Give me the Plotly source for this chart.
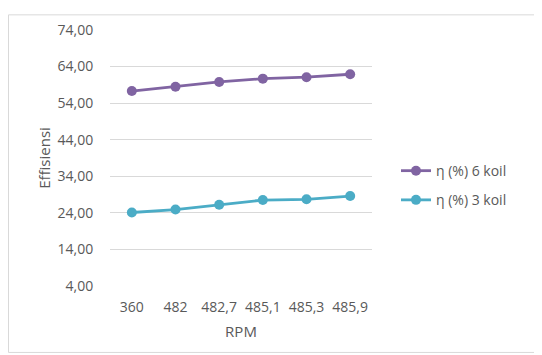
import plotly.graph_objects as go

categories = ["360", "482", "482,7", "485,1", "485,3", "485,9"]
eff_6_koil = [57.3, 58.5, 59.8, 60.7, 61.1, 61.9]
eff_3_koil = [24.1, 24.9, 26.2, 27.5, 27.7, 28.6]
series_names = ["η (%) 6 koil", "η (%) 3 koil"]
y_ticks = [4, 14, 24, 34, 44, 54, 64, 74]

PURPLE = "#8064A2"
CYAN = "#4BACC6"
TXT = "#595959"
FONT = "Open Sans"

fig = go.Figure()
for i, (name, vals, col) in enumerate([(series_names[0], eff_6_koil, PURPLE), (series_names[1], eff_3_koil, CYAN)]):
    fig.add_trace(go.Scatter(
        x=categories, y=vals, name=name, mode="lines+markers",
        line=dict(color=col, width=2.8),
        marker=dict(color=col, size=10),
        legendgroup=f"g{i}",
    ))

# page has 8px body margin; figure coords = screen coords - 8
W, H = 542, 355
L, T = 102, 16
pw, ph = 262, 262
R = W - L - pw
B = H - T - ph

fig.update_layout(
    width=W, height=H,
    margin=dict(l=L, r=R, t=T, b=B),
    paper_bgcolor="white", plot_bgcolor="white",
    separators=",.",
    font=dict(family=FONT, size=14, color=TXT),
    showlegend=True,
    legend=dict(x=(388 - L) / pw, y=(T + ph - 144) / ph, xanchor="left", yanchor="top",
                font=dict(family=FONT, size=14, color=TXT),
                bgcolor="rgba(0,0,0,0)", tracegroupgap=8),
    xaxis=dict(type="category", range=[-0.5, 5.5], showgrid=False, zeroline=False,
               showline=False, ticks="outside", ticklen=8, tickcolor="white",
               tickfont=dict(family=FONT, size=14, color=TXT),
               title=dict(text="RPM", font=dict(family=FONT, size=15, color=TXT), standoff=11)),
    yaxis=dict(range=[4, 74], tickvals=y_ticks, tickformat=".2f", showgrid=True,
               gridcolor="#D9D9D9", gridwidth=1, zeroline=False, showline=False,
               ticks="outside", ticklen=13, tickcolor="white",
               tickfont=dict(family=FONT, size=14, color=TXT),
               title=dict(text="Effisiensi", font=dict(family=FONT, size=15, color=TXT), standoff=3)),
    shapes=[dict(type="rect", xref="paper", yref="paper",
                 x0=(0.5 - L) / pw, x1=(560 - L) / pw,
                 y0=(T + ph - 346) / ph, y1=(T + ph - 0.5) / ph,
                 line=dict(color="#D9D9D9", width=1), fillcolor="rgba(0,0,0,0)", layer="below")],
)

fig.write_html("out.html")
